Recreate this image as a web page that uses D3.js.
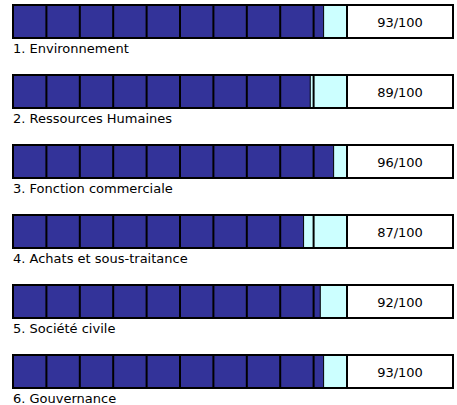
<!DOCTYPE html>
<html>
<head>
<meta charset="utf-8">
<script src="https://cdn.jsdelivr.net/npm/d3@7"></script>
<style>
  body { margin: 0; background: #fff; }
</style>
</head>
<body>
<div id="chart"></div>
<script>
// Data
const labels = ["1. Environnement", "2. Ressources Humaines", "3. Fonction commerciale",
  "4. Achats et sous-traitance", "5. Société civile", "6. Gouvernance"];
const scores = [93, 89, 96, 87, 92, 93];
const maxScore = 100;
const cellTicks = [10, 20, 30, 40, 50, 60, 70, 80, 90];

const width = 457, height = 405;

const svg = d3.select("#chart")
  .append("svg")
  .attr("width", width)
  .attr("height", height);

// Scales
const x = d3.scaleLinear().domain([0, maxScore]).range([13, 347]);
const y = d3.scaleBand().domain(labels).range([5, 425]);
const barH = 33;
const boxRight = 453;

const rows = svg.selectAll("g.row")
  .data(labels.map((l, i) => ({ label: l, score: scores[i] })))
  .enter()
  .append("g")
  .attr("class", "row")
  .attr("transform", d => `translate(0,${y(d.label)})`);

// remaining part (light)
rows.append("rect")
  .attr("x", x(0))
  .attr("y", 0)
  .attr("width", x(maxScore) - x(0))
  .attr("height", barH)
  .attr("fill", "#ccffff");

// score part (dark)
rows.append("rect")
  .attr("x", x(0))
  .attr("y", 0)
  .attr("width", d => x(d.score) - x(0))
  .attr("height", barH)
  .attr("fill", "#333399");

// end of score
rows.append("line")
  .attr("x1", d => x(d.score))
  .attr("x2", d => x(d.score))
  .attr("y1", 0)
  .attr("y2", barH)
  .attr("stroke", "#000")
  .attr("stroke-width", 1);

// cell dividers
rows.selectAll("line.cell")
  .data(cellTicks)
  .enter()
  .append("line")
  .attr("class", "cell")
  .attr("x1", d => x(d))
  .attr("x2", d => x(d))
  .attr("y1", 0)
  .attr("y2", barH)
  .attr("stroke", "#000")
  .attr("stroke-width", 2);

// outer border of the bar
rows.append("rect")
  .attr("x", x(0))
  .attr("y", 0)
  .attr("width", x(maxScore) - x(0))
  .attr("height", barH)
  .attr("fill", "none")
  .attr("stroke", "#000")
  .attr("stroke-width", 2);

// score box
rows.append("rect")
  .attr("x", x(maxScore))
  .attr("y", 0)
  .attr("width", boxRight - x(maxScore))
  .attr("height", barH)
  .attr("fill", "#fff")
  .attr("stroke", "#000")
  .attr("stroke-width", 2);

rows.append("text")
  .attr("x", (x(maxScore) + boxRight) / 2)
  .attr("y", barH / 2 + 5)
  .attr("text-anchor", "middle")
  .style("font-family", "'DejaVu Sans', sans-serif")
  .style("font-size", "13px")
  .text(d => `${d.score}/${maxScore}`);

// labels
rows.append("text")
  .attr("x", 13)
  .attr("y", barH + 15)
  .style("font-family", "'DejaVu Sans', sans-serif")
  .style("font-size", "13px")
  .text(d => d.label);
</script>
</body>
</html>
